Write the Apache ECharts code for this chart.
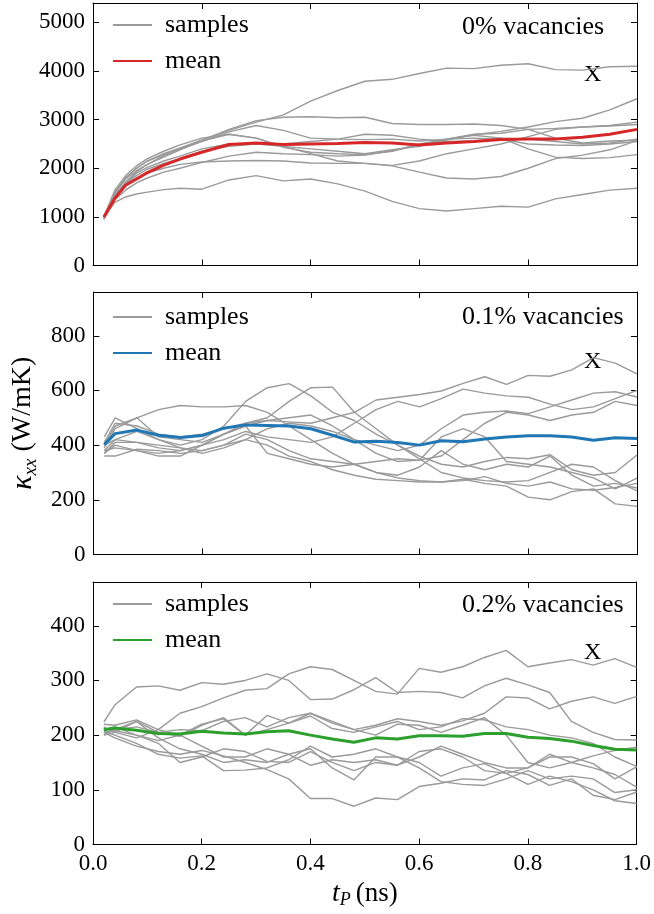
<!DOCTYPE html>
<html>
<head>
<meta charset="utf-8">
<script src="https://cdn.jsdelivr.net/npm/echarts@6/dist/echarts.min.js"></script>
<style>
  html, body { margin: 0; padding: 0; background: #fff; }
  #chart { width: 654px; height: 914px; }
</style>
</head>
<body>
<div id="chart"></div>
<script>
// ---- time samples (ns) ----
const timePure = [0.02,0.04,0.06,0.08,0.10,0.13,0.16,0.20,0.25,0.30,0.35,0.40,0.45,0.50,0.55,0.60,0.65,0.70,0.75,0.80,0.85,0.90,0.95,1.00];
const timeVac  = [0.02,0.04,0.08,0.12,0.16,0.20,0.24,0.28,0.32,0.36,0.40,0.44,0.48,0.52,0.56,0.60,0.64,0.68,0.72,0.76,0.80,0.84,0.88,0.92,0.96,1.00];

// ---- 0% vacancies: kappa_xx (W/mK) ----
const meanPure = [1000,1380,1650,1780,1910,2065,2190,2330,2490,2520,2490,2500,2510,2530,2520,2480,2520,2550,2590,2600,2600,2640,2700,2800];
const samplesPure = [
  [950,1420,1720,1930,2080,2260,2400,2580,2780,2950,3100,3380,3600,3790,3830,3950,4060,4050,4120,4150,4030,4020,4090,4100],
  [1000,1500,1800,2000,2150,2300,2420,2580,2800,2980,3050,3060,3040,3050,2920,2900,2900,2910,2880,2800,2620,2520,2560,2580],
  [980,1350,1550,1700,1800,1920,2000,2120,2250,2330,2300,2280,2250,2270,2360,2480,2580,2690,2760,2850,2960,3030,3200,3430],
  [1000,1480,1780,1950,2080,2230,2380,2560,2700,2620,2450,2300,2150,2100,2050,1920,1800,1780,1830,2000,2200,2270,2380,2570],
  [950,1400,1650,1800,1900,2000,2080,2130,2150,2160,2150,2110,2100,2100,2060,2150,2300,2400,2500,2650,2800,2850,2880,2950],
  [970,1450,1700,1900,2020,2150,2250,2400,2500,2500,2450,2400,2350,2300,2380,2450,2600,2680,2620,2400,2230,2200,2220,2280],
  [1000,1500,1800,2000,2150,2280,2400,2550,2750,2880,2780,2620,2600,2590,2600,2560,2600,2700,2720,2800,2820,2850,2870,2900],
  [980,1420,1680,1850,1980,2100,2200,2350,2450,2500,2500,2550,2600,2700,2680,2600,2550,2560,2620,2600,2550,2500,2520,2600],
  [1000,1550,1850,2050,2200,2350,2480,2620,2700,2620,2430,2330,2300,2280,2350,2500,2600,2620,2600,2500,2480,2470,2500,2550],
  [970,1300,1410,1470,1510,1560,1590,1570,1760,1850,1740,1780,1680,1530,1320,1170,1120,1170,1220,1200,1370,1460,1550,1590]
];

// ---- 0.1% vacancies ----
const meanVac1 = [402,442,455,436,428,435,462,474,472,470,460,436,411,414,410,400,416,412,422,430,434,434,430,418,427,424];
const samplesVac1 = [
  [400,470,500,430,420,410,440,470,490,485,480,500,520,565,575,585,598,626,650,622,655,652,675,720,700,661],
  [380,420,450,420,400,420,470,560,610,625,580,520,490,440,400,360,330,320,340,355,350,365,310,290,300,364],
  [370,400,380,370,380,400,440,480,500,560,610,612,520,460,400,350,300,280,270,265,270,300,330,320,270,233],
  [390,460,500,530,545,540,540,545,520,470,420,370,330,300,280,270,265,270,285,260,250,265,240,235,245,260],
  [370,410,410,390,380,400,420,450,430,420,410,430,480,530,560,540,570,605,590,580,575,550,530,540,570,600],
  [360,360,385,380,370,380,400,420,460,480,470,450,420,400,380,400,460,510,520,525,515,540,565,590,595,576],
  [410,480,470,440,430,440,460,480,490,500,510,470,420,370,340,345,360,420,480,520,510,490,510,520,560,545],
  [400,420,410,400,390,370,390,420,400,360,340,310,290,275,270,265,265,275,260,250,210,200,230,240,185,176],
  [430,500,460,420,390,380,400,440,420,380,350,340,330,340,350,345,430,460,430,340,330,320,300,280,240,279],
  [380,390,380,360,360,400,440,470,370,350,330,320,330,300,290,320,380,330,310,330,320,360,290,250,260,243]
];

// ---- 0.2% vacancies ----
const meanVac2 = [210,213,209,203,202,207,204,202,206,208,200,193,187,195,193,199,199,198,203,203,196,194,189,181,174,173];
const samplesVac2 = [
  [224,255,288,290,282,296,293,300,312,300,265,266,283,305,278,280,278,268,290,304,292,278,225,205,192,191],
  [215,205,195,210,240,252,268,282,285,312,325,320,300,280,275,322,315,325,342,355,325,332,338,328,340,324],
  [205,210,225,205,210,208,225,232,215,232,240,222,210,218,230,225,218,226,240,270,268,248,262,270,258,271],
  [205,195,180,170,165,172,162,150,137,120,84,84,70,85,82,106,112,120,118,135,128,108,120,90,82,96],
  [200,205,225,195,175,165,150,155,150,165,175,140,118,160,160,150,125,140,148,130,110,125,115,100,80,75],
  [210,215,200,185,150,160,175,170,152,150,170,150,135,150,145,170,175,160,135,130,140,165,150,140,128,105],
  [208,200,185,165,158,162,135,136,140,155,180,160,165,175,160,140,115,110,108,120,135,120,125,120,95,100],
  [220,218,228,210,200,220,230,200,210,222,240,225,210,200,220,218,205,218,232,200,150,140,150,162,172,178],
  [212,208,200,190,200,180,160,160,175,165,145,155,150,155,145,160,180,165,150,140,140,160,160,148,120,142],
  [200,210,215,205,198,218,232,200,236,222,235,212,205,215,225,210,215,230,228,215,210,200,195,185,160,143]
];

const panelLabels = ['0% vacancies', '0.1% vacancies', '0.2% vacancies'];
const meanColors = ['#d62728', '#1f77b4', '#2ca02c'];

const FONT = '"Liberation Serif", "Times New Roman", serif';
const panels = [
  { t: timePure, mean: meanPure, samples: samplesPure, yMax: 5400, yStep: 1000 },
  { t: timeVac,  mean: meanVac1, samples: samplesVac1, yMax: 960,  yStep: 200 },
  { t: timeVac,  mean: meanVac2, samples: samplesVac2, yMax: 480,  yStep: 100 }
];

const gridTops = [3, 292, 582];
const gridH = 262.5;
const legendOffset = [4, 7, 4];
const labelOffset = [11, 12, 10];
const crossOffset = [60, 58, 59];
const pad = ['', ' ', '  ']; // keeps legend names distinct per panel

const grids = [], xAxes = [], yAxes = [], series = [], legends = [], graphics = [];

const axisLineStyle = { color: '#000', width: 1 };
const tickStyle = { show: true, inside: true, length: 6, lineStyle: { color: '#000', width: 1 } };

panels.forEach((p, i) => {
  grids.push({ left: 93, right: 17, top: gridTops[i], height: gridH, containLabel: false });

  const isBottom = i === panels.length - 1;
  xAxes.push({
    type: 'value', gridIndex: i, position: 'bottom', min: 0, max: 1, interval: 0.2,
    axisLine: { show: true, onZero: false, lineStyle: axisLineStyle },
    axisTick: tickStyle,
    splitLine: { show: false },
    axisLabel: {
      show: isBottom, margin: 8, color: '#000', fontFamily: FONT, fontSize: 23,
      formatter: v => v.toFixed(1)
    },
    name: isBottom ? '{t|t}{s|P}{n|(ns)}' : '',
    nameLocation: 'middle', nameGap: 33,
    nameTextStyle: {
      color: '#000',
      rich: {
        t: { fontFamily: FONT, fontSize: 28, fontStyle: 'italic', lineHeight: 32, color: '#000' },
        s: { fontFamily: FONT, fontSize: 18, fontStyle: 'italic', lineHeight: 10, verticalAlign: 'bottom', color: '#000' },
        n: { fontFamily: FONT, fontSize: 27, lineHeight: 32, color: '#000', padding: [0, 0, 0, 5] }
      }
    }
  });
  xAxes.push({
    type: 'value', gridIndex: i, position: 'top', min: 0, max: 1, interval: 0.2,
    axisLine: { show: true, onZero: false, lineStyle: axisLineStyle },
    axisTick: tickStyle, axisLabel: { show: false }, splitLine: { show: false }
  });

  yAxes.push({
    type: 'value', gridIndex: i, position: 'left', min: 0, max: p.yMax, interval: p.yStep,
    axisLine: { show: true, onZero: false, lineStyle: axisLineStyle },
    axisTick: tickStyle,
    splitLine: { show: false },
    axisLabel: {
      margin: 8, color: '#000', fontFamily: FONT, fontSize: 23, showMaxLabel: false,
      formatter: v => (v % p.yStep === 0 ? String(v) : '')
    },
    name: i === 1 ? '{k|κ}{s|xx}{n|(W/mK)}' : '',
    nameLocation: 'middle', nameGap: 50, nameRotate: 90,
    nameTextStyle: {
      color: '#000',
      rich: {
        k: { fontFamily: FONT, fontSize: 30, fontStyle: 'italic', lineHeight: 34, color: '#000' },
        s: { fontFamily: FONT, fontSize: 19, fontStyle: 'italic', lineHeight: 10, verticalAlign: 'bottom', color: '#000' },
        n: { fontFamily: FONT, fontSize: 28, lineHeight: 34, color: '#000', padding: [0, 0, 0, 7] }
      }
    }
  });
  yAxes.push({
    type: 'value', gridIndex: i, position: 'right', min: 0, max: p.yMax, interval: p.yStep,
    axisLine: { show: true, onZero: false, lineStyle: axisLineStyle },
    axisTick: tickStyle, axisLabel: { show: false }, splitLine: { show: false }
  });

  const sName = 'samples' + pad[i];
  const mName = 'mean' + pad[i];

  p.samples.forEach(arr => {
    series.push({
      type: 'line', name: sName, xAxisIndex: 2 * i, yAxisIndex: 2 * i,
      data: arr.map((v, k) => [p.t[k], v]),
      symbol: 'none', silent: true, z: 2,
      lineStyle: { color: '#9a9a9a', width: 1.4 },
      itemStyle: { color: '#9a9a9a' }
    });
  });
  series.push({
    type: 'line', name: mName, xAxisIndex: 2 * i, yAxisIndex: 2 * i,
    data: p.mean.map((v, k) => [p.t[k], v]),
    symbol: 'none', silent: true, z: 3,
    lineStyle: { color: meanColors[i], width: 3 },
    itemStyle: { color: meanColors[i] }
  });

  legends.push({
    orient: 'vertical', left: 107, top: gridTops[i] + legendOffset[i],
    itemWidth: 39, itemHeight: 14, itemGap: 10,
    selectedMode: false,
    itemStyle: { opacity: 0 },
    data: [{ name: sName }, { name: mName }],
    formatter: n => n.trim(),
    textStyle: { fontFamily: FONT, fontSize: 26, color: '#000', lineHeight: 26, padding: [0, 0, 0, 8] }
  });

  graphics.push({
    type: 'text', left: 462, top: gridTops[i] + labelOffset[i],
    style: { text: panelLabels[i], font: '26px ' + FONT, fill: '#000' }
  });
  graphics.push({
    type: 'text', left: 584, top: gridTops[i] + crossOffset[i],
    style: { text: 'X', font: '24px ' + FONT, fill: '#000' }
  });
});

const chart = echarts.init(document.getElementById('chart'), null, { renderer: 'canvas' });
chart.setOption({
  animation: false,
  backgroundColor: '#fff',
  grid: grids,
  xAxis: xAxes,
  yAxis: yAxes,
  legend: legends,
  series: series,
  graphic: graphics
});
</script>
</body>
</html>
